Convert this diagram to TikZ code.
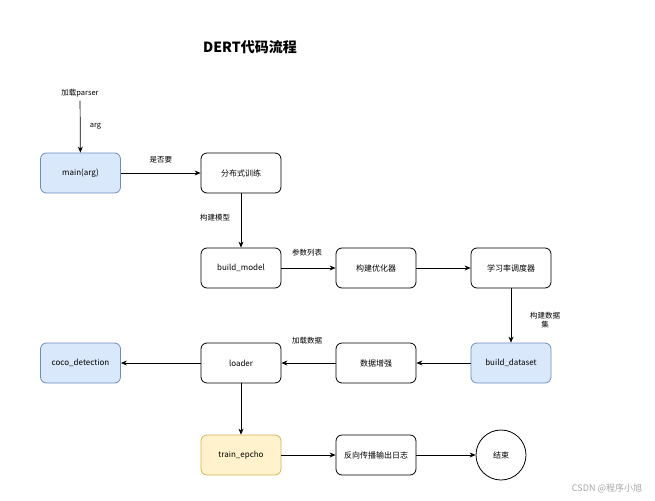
\documentclass[tikz,border=0pt]{standalone}
\usepackage{fontspec}
\setmainfont{Noto Sans CJK SC}
\usetikzlibrary{arrows.meta}
\begin{document}
\begin{tikzpicture}[x=1pt,y=-1pt,
 box/.style={draw,rounded corners=6pt,minimum width=80pt,minimum height=40pt,font=\fontsize{8}{9}\selectfont,line width=0.8pt},
 blue/.style={fill={rgb,255:red,218;green,232;blue,252},draw={rgb,255:red,108;green,142;blue,191}},
 yel/.style={fill={rgb,255:red,255;green,242;blue,204},draw={rgb,255:red,214;green,182;blue,86}},
 lab/.style={font=\fontsize{7.5}{9}\selectfont},
 arr/.style={-{Stealth[length=6pt,width=5pt]},line width=0.7pt}]
\useasboundingbox (0,0) rectangle (655,500);
\node[font=\bfseries\fontsize{14}{16}\selectfont] (title) at (250,47) {DERT代码流程};
\node[lab] (parser) at (80,93) {加载parser};
\node[box,blue] (main) at (80.5,173) {main(arg)};
\node[box] (dist) at (241,173) {分布式训练};
\node[box] (bm) at (241,268) {build\_model};
\node[box] (opt) at (376,268) {构建优化器};
\node[box] (lr) at (511,268) {学习率调度器};
\node[box,blue] (bd) at (511,363) {build\_dataset};
\node[box] (aug) at (376,363) {数据增强};
\node[box] (loader) at (241,363) {loader};
\node[box,blue] (coco) at (80.5,363) {coco\_detection};
\node[box,yel] (train) at (241,455) {train\_epcho};
\node[box] (back) at (376,455) {反向传播输出日志};
\node[draw,circle,minimum size=50pt,line width=0.8pt,font=\fontsize{8}{9}\selectfont] (end) at (501,455) {结束};
\draw[arr] (parser) -- node[lab,right=6pt] {arg} (main);
\draw[arr] (main) -- node[lab,above=6pt] {是否要} (dist);
\draw[arr] (dist) -- node[lab,left=2pt,pos=0.45,xshift=8pt,anchor=west] {} (bm);
\node[lab] at (215,218) {构建模型};
\draw[arr] (bm) -- (opt);
\node[lab] at (307,253) {参数列表};
\draw[arr] (opt) -- (lr);
\draw[arr] (lr) -- (bd);
\node[lab,align=center] at (545,320) {构建数据\\集};
\draw[arr] (bd) -- (aug);
\draw[arr] (aug) -- (loader);
\node[lab] at (307,341) {加载数据};
\draw[arr] (loader) -- (coco);
\draw[arr] (loader) -- (train);
\draw[arr] (train) -- (back);
\draw[arr] (back) -- (end);
\node[font=\fontsize{9}{10}\selectfont,text=gray!70] (wm) at (607,488) {CSDN @程序小旭};
\end{tikzpicture}
\end{document}
